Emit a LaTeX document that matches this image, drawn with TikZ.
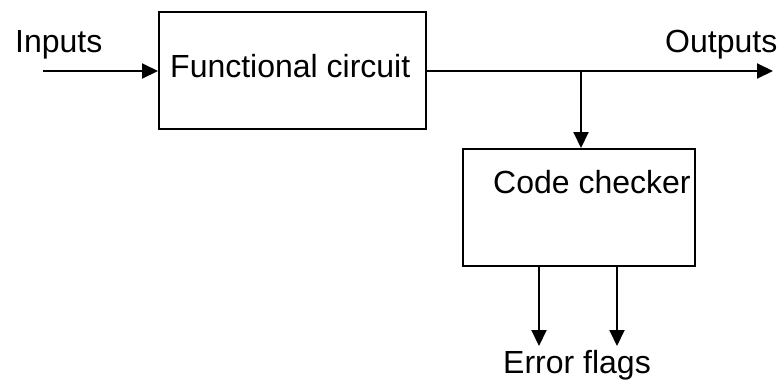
\documentclass[tikz,border=0pt]{standalone}
\usepackage{fontspec}
\setmainfont{Liberation Sans}
\usetikzlibrary{arrows.meta}
\begin{document}
\begin{tikzpicture}[x=1pt,y=-1pt,
  blk/.style={draw, line width=2pt, inner sep=0pt},
  lbl/.style={anchor=base west, inner sep=0pt, font=\fontsize{32}{36}\selectfont},
  wire/.style={line width=2pt},
  flow/.style={wire, -{Triangle[length=16pt,width=15pt]}}]
  \useasboundingbox (0,0) rectangle (780,389);

  % blocks
  \node[blk, minimum width=267pt, minimum height=117pt] (fc) at (292.5,70.5) {};
  \node[blk, minimum width=232pt, minimum height=117pt] (cc) at (579,207.5) {};

  % texts
  \node[lbl] (tin) at (15,52) {Inputs};
  \node[lbl] (tfc) at (170,77) {Functional circuit};
  \node[lbl] (tout) at (665,52) {Outputs};
  \node[lbl] (tcc) at (493,193) {Code checker};
  \node[lbl] (terr) at (503,373) {Error flags};

  % free ends of connectors
  \coordinate (in) at (43,71);
  \coordinate (out) at (773,71);
  \coordinate (br) at (581,71);
  \coordinate (e1) at (539,346);
  \coordinate (e2) at (617,346);

  % connectors
  \draw[flow] (in) -- (in -| fc.west);
  \draw[flow] (fc.east |- out) -- (out);
  \draw[flow] (br) -- (br |- cc.north);
  \draw[flow] (e1 |- cc.south) -- (e1);
  \draw[flow] (e2 |- cc.south) -- (e2);
\end{tikzpicture}
\end{document}
